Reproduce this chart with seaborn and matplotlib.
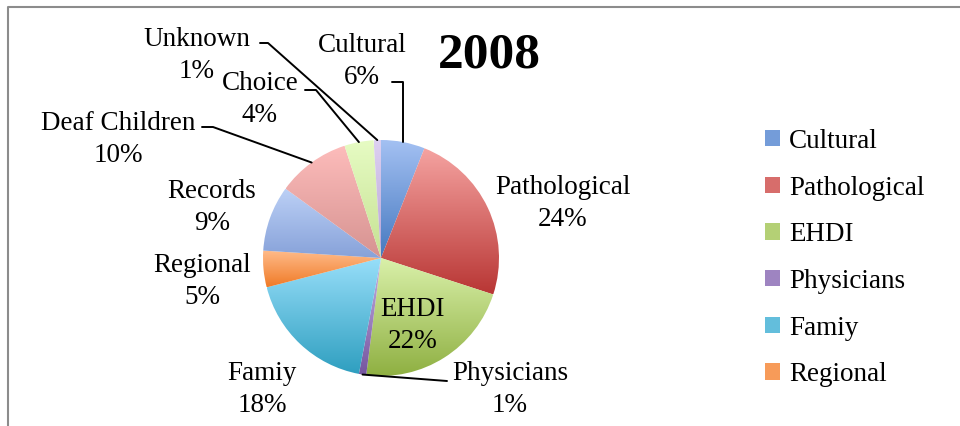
import numpy as np
import seaborn as sns
import matplotlib.pyplot as plt
from matplotlib.patches import Patch
from matplotlib.colors import to_rgb

# data
labels = ["Cultural", "Pathological", "EHDI", "Physicians", "Famiy",
          "Regional", "Records", "Deaf Children", "Choice", "Unknown"]
shares = [6, 24, 22, 1, 18, 5, 9, 10, 4, 1]
legend_count = 6  # only the first six show up in the legend
top_colors = ["#a3c0f2", "#f5a3a1", "#d9f0a9", "#c7b3e2", "#97def9",
              "#ffbb8a", "#bcd0f6", "#fdbcbb", "#e6fbc3", "#ddd0f1"]
bottom_colors = ["#4679c0", "#b93735", "#8fb042", "#7555a0", "#2f9fc0",
                 "#f07b28", "#87a2d9", "#d69391", "#c6e293", "#b7a3d5"]

sns.set_style("white")
plt.rcParams["font.family"] = ["Liberation Serif", "DejaVu Serif"]
plt.rcParams["text.color"] = "black"

fig = plt.figure(figsize=(9.6, 4.26), dpi=100)
ax = fig.add_axes([0, 0, 1, 1])

cx, cy, r = 381, 426 - 258, 118
wedges, _ = ax.pie(shares, startangle=90, counterclock=False, center=(cx, cy),
                   radius=r, frame=True,
                   colors=["none"] * len(shares),
                   wedgeprops=dict(linewidth=0))
ax.set_xlim(0, 960)
ax.set_ylim(0, 426)
ax.set_aspect("equal")
ax.axis("off")

# vertical gradient inside each slice
for w, c_top, c_bot in zip(wedges, top_colors, bottom_colors):
    bb = w.get_path().get_extents()
    t = np.linspace(0, 1, 64)[:, None, None]
    grad = np.array(to_rgb(c_bot)) * (1 - t) + np.array(to_rgb(c_top)) * t
    im = ax.imshow(grad, extent=[bb.x0, bb.x1, bb.y0, bb.y1], origin="lower",
                   aspect="auto", interpolation="bilinear", zorder=1)
    im.set_clip_path(w)

fs = 19.5
# label positions (text centre, pixel coords from top), leader start, elbow
label_pos = {
    "Cultural": (362, 46, (392, 82), (403, 82)),
    "Pathological": (563, 188, None, None),
    "EHDI": (413, 310, None, None),
    "Physicians": (510, 374, (447, 381), None),
    "Famiy": (262, 373, None, None),
    "Regional": (202, 266, None, None),
    "Records": (212, 191, None, None),
    "Deaf Children": (118, 123, (202, 127), (213, 127)),
    "Choice": (260, 83, (305, 90), (316, 90)),
    "Unknown": (197, 39, (260, 43), (268, 43)),
}

for w, lab, val in zip(wedges, labels, shares):
    x, y, start, elbow = label_pos[lab]
    ax.text(x, 426 - y, lab, ha="center", va="center", fontsize=fs, zorder=3)
    ax.text(x, 426 - y - 32, f"{val}%", ha="center", va="center",
            fontsize=fs, zorder=3)
    if start is not None:
        mid = np.deg2rad((w.theta1 + w.theta2) / 2)
        ex, ey = cx + r * np.cos(mid), cy + r * np.sin(mid)
        pts = [(start[0], 426 - start[1])]
        if elbow is not None:
            pts.append((elbow[0], 426 - elbow[1]))
        if lab == "Cultural":
            pts.append((elbow[0], ey))
        else:
            pts.append((ex, ey))
        xs, ys = zip(*pts)
        ax.plot(xs, ys, color="black", lw=1.4, zorder=2)

ax.text(489, 426 - 56, "2008", ha="center", va="center", fontsize=37,
        fontweight="bold", zorder=3)

handles = [Patch(facecolor=c, edgecolor="none") for c in
           [sns.blend_palette([a, b], 3)[1] for a, b in
            zip(top_colors[:legend_count], bottom_colors[:legend_count])]]
ax.legend(handles, labels[:legend_count], loc="upper left",
          bbox_to_anchor=(754 / 960, 1 - 118 / 426), frameon=False,
          fontsize=fs, handlelength=0.55, handleheight=0.55, handletextpad=0.35,
          labelspacing=0.8, borderaxespad=0)

# partial frame around the chart area
ax.plot([8, 8, 960], [0, 426 - 6.5, 426 - 6.5], color="#8c8c8c", lw=1.5,
        clip_on=False, zorder=4)

fig.savefig("out.png", dpi=100)
